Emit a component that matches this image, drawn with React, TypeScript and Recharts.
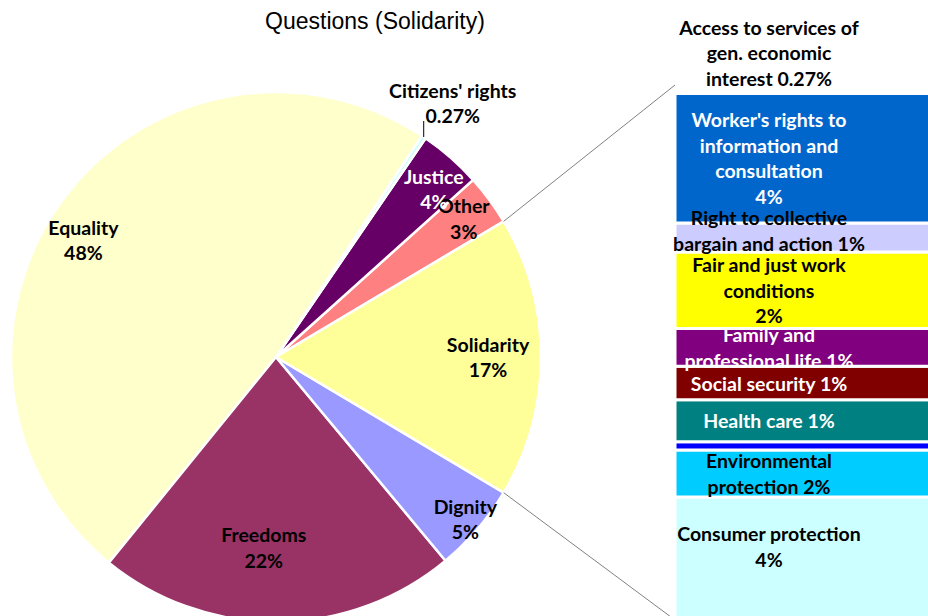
import React from "react";
import { Bar, BarChart, Pie, PieChart, Cell, XAxis, YAxis } from "recharts";

const W = 928;
const H = 616;

// share of all questions, in percent (counter-clockwise from the top edge of Solidarity)
const pieNames = ["Other", "Justice", "Citizens' rights", "Equality", "Freedoms", "Dignity", "Solidarity"];
const pieValues = [3.1, 3.8, 0.27, 48.4, 21.9, 5.4, 17.1];
const pieColors = ["#FF8080", "#660066", "#CCFFFF", "#FFFFCC", "#993366", "#9999FF", "#FFFF99"];
const pieTextColors = ["#000", "#fff", "#000", "#000", "#000", "#000", "#000"];

// Solidarity broken down, bottom of the stack first. Last line gets the percentage appended.
const barNames = [
  ["Consumer protection", ""],
  ["Environmental", "protection"],
  [],
  ["Health care"],
  ["Social security"],
  ["Family and", "professional life"],
  ["Fair and just work", "conditions", ""],
  ["Right to collective", "bargain and action"],
  ["Worker's rights to", "information and", "consultation", ""],
  ["Access to services of", "gen. economic", "interest"],
];
const barValues = [3.93, 1.5, 0.27, 1.34, 1.07, 1.21, 2.44, 0.93, 4.14, 0.27];
const barColors = ["#CCFFFF", "#00CCFF", "#0000FF", "#008080", "#800000", "#800080", "#FFFF00", "#CCCCFF", "#0066CC", "#FFFFFF"];
const barTextColors = ["#000", "#000", "#000", "#fff", "#fff", "#fff", "#000", "#000", "#fff", "#000"];

const CX = 276;
const CY = 357;
const R = 265;
const BAR_X = 675;
const BAR_TOP = 85;
const BAR_BOTTOM = 620;
const BAR_PAD = 12; // room left of the bar so long labels are not clipped
const LH = 25.5;
const FONT = "Lato, 'Open Sans', sans-serif";
const FS = 19.5;
const RAD = Math.PI / 180;

// where each pie label sits: fraction of radius, degrees off the slice middle
const labelPos: Record<string, [number, number]> = {
  Other: [0.88, 0],
  Justice: [0.87, -2],
  Equality: [0.85, 5],
  Freedoms: [0.72, -4],
  Dignity: [0.94, 0],
  Solidarity: [0.8, 0],
};

const fmt = (v: number) => (v < 0.5 ? v.toFixed(2) : Math.round(v).toString()) + "%";

const barTotal = barValues.reduce((a, b) => a + b, 0);
const barRow: Record<string, number | string> = { name: "Solidarity" };
barValues.forEach((v, i) => (barRow["s" + i] = v));

const pieData = pieNames.map((name, i) => ({ name, value: pieValues[i] }));
const startAngle = (pieValues[6] / pieValues.reduce((a, b) => a + b, 0)) * 180;

function Lines({ x, cy, lines, color }: { x: number; cy: number; lines: string[]; color: string }) {
  const y0 = cy - ((lines.length - 1) * LH) / 2;
  return (
    <text x={x} textAnchor="middle" fontFamily={FONT} fontSize={FS} fontWeight={700} fill={color}>
      {lines.map((l, i) => (
        <tspan key={i} x={x} y={y0 + i * LH} dominantBaseline="central">
          {l}
        </tspan>
      ))}
    </text>
  );
}

function pieLabel(props: any) {
  const { cx, cy, midAngle, outerRadius, index, percent } = props;
  const name = pieNames[index];
  const value = pieValues[index];
  const lines = [name, fmt(value)];
  const pt = (a: number, r: number) => [cx + r * Math.cos(-a * RAD), cy + r * Math.sin(-a * RAD)];

  if (value < 0.5) {
    const [ox, oy] = pt(midAngle, outerRadius);
    return (
      <g>
        <line x1={ox} y1={oy} x2={ox} y2={oy - 16} stroke="#000" strokeWidth={1} />
        <Lines x={ox + 29} cy={oy - 34} lines={lines} color={pieTextColors[index]} />
      </g>
    );
  }

  const [rf, da] = labelPos[name] ?? [0.8, 0];
  const [lx, ly] = pt(midAngle + da, outerRadius * rf);
  const half = percent * 180;
  const [ax, ay] = pt(midAngle + half, outerRadius);
  const [bx, by] = pt(midAngle - half, outerRadius);
  return (
    <g>
      {name === "Solidarity" && (
        <>
          <line x1={ax} y1={ay} x2={BAR_X} y2={BAR_TOP} stroke="#808080" strokeWidth={1} />
          <line x1={bx} y1={by} x2={BAR_X} y2={BAR_BOTTOM} stroke="#808080" strokeWidth={1} />
        </>
      )}
      <Lines x={lx} cy={ly} lines={lines} color={pieTextColors[index]} />
    </g>
  );
}

function barLabel(i: number) {
  return (p: any) => {
    const names = barNames[i];
    if (!names.length) return null;
    const last = names[names.length - 1];
    const lines = [...names.slice(0, -1), (last ? last + " " : "") + fmt(barValues[i])];
    const top = Number(p.y);
    const bottom = Math.min(top + Number(p.height), H - 20);
    const block = lines.length * LH;
    let mid = (top + bottom) / 2;
    if (block > bottom - top + 20) mid = bottom - block / 2 + 4;
    if (barValues[i] < 0.5) mid = top - 7 - ((lines.length - 1) * LH) / 2;
    return <Lines key={i} x={Number(p.x) + 94} cy={mid} lines={lines} color={barTextColors[i]} />;
  };
}

export default function App() {
  return (
    <div style={{ position: "absolute", left: 0, top: 0, width: W, height: H, overflow: "hidden", background: "#fff" }}>
      <svg width={W} height={40} style={{ position: "absolute", left: 0, top: 0 }}>
        <text x={375} y={29} textAnchor="middle" fontFamily="'Liberation Sans', Arial, sans-serif" fontSize={23} fill="#000">
          Questions (Solidarity)
        </text>
      </svg>
      <div style={{ position: "absolute", left: BAR_X - BAR_PAD, top: 0 }}>
        <BarChart
          width={300 + BAR_PAD}
          height={640}
          data={[barRow]}
          margin={{ top: BAR_TOP, bottom: 640 - BAR_BOTTOM, left: BAR_PAD, right: 0 }}
          barCategoryGap={0}
        >
          <XAxis dataKey="name" hide />
          <YAxis hide domain={[0, barTotal]} />
          {barValues.map((_, i) => (
            <Bar
              key={i}
              dataKey={"s" + i}
              stackId="a"
              fill={barColors[i]}
              stroke="#fff"
              strokeWidth={3}
              isAnimationActive={false}
              label={barLabel(i)}
            />
          ))}
        </BarChart>
      </div>
      <div style={{ position: "absolute", left: 0, top: 0 }}>
        <PieChart width={W} height={H} margin={{ top: 0, right: 0, bottom: 0, left: 0 }}>
          <Pie
            data={pieData}
            dataKey="value"
            cx={CX}
            cy={CY}
            outerRadius={R}
            startAngle={startAngle}
            endAngle={startAngle + 360}
            stroke="#fff"
            strokeWidth={2.5}
            label={pieLabel}
            labelLine={false}
            isAnimationActive={false}
          >
            {pieData.map((d, i) => (
              <Cell key={d.name} fill={pieColors[i]} />
            ))}
          </Pie>
        </PieChart>
      </div>
    </div>
  );
}
